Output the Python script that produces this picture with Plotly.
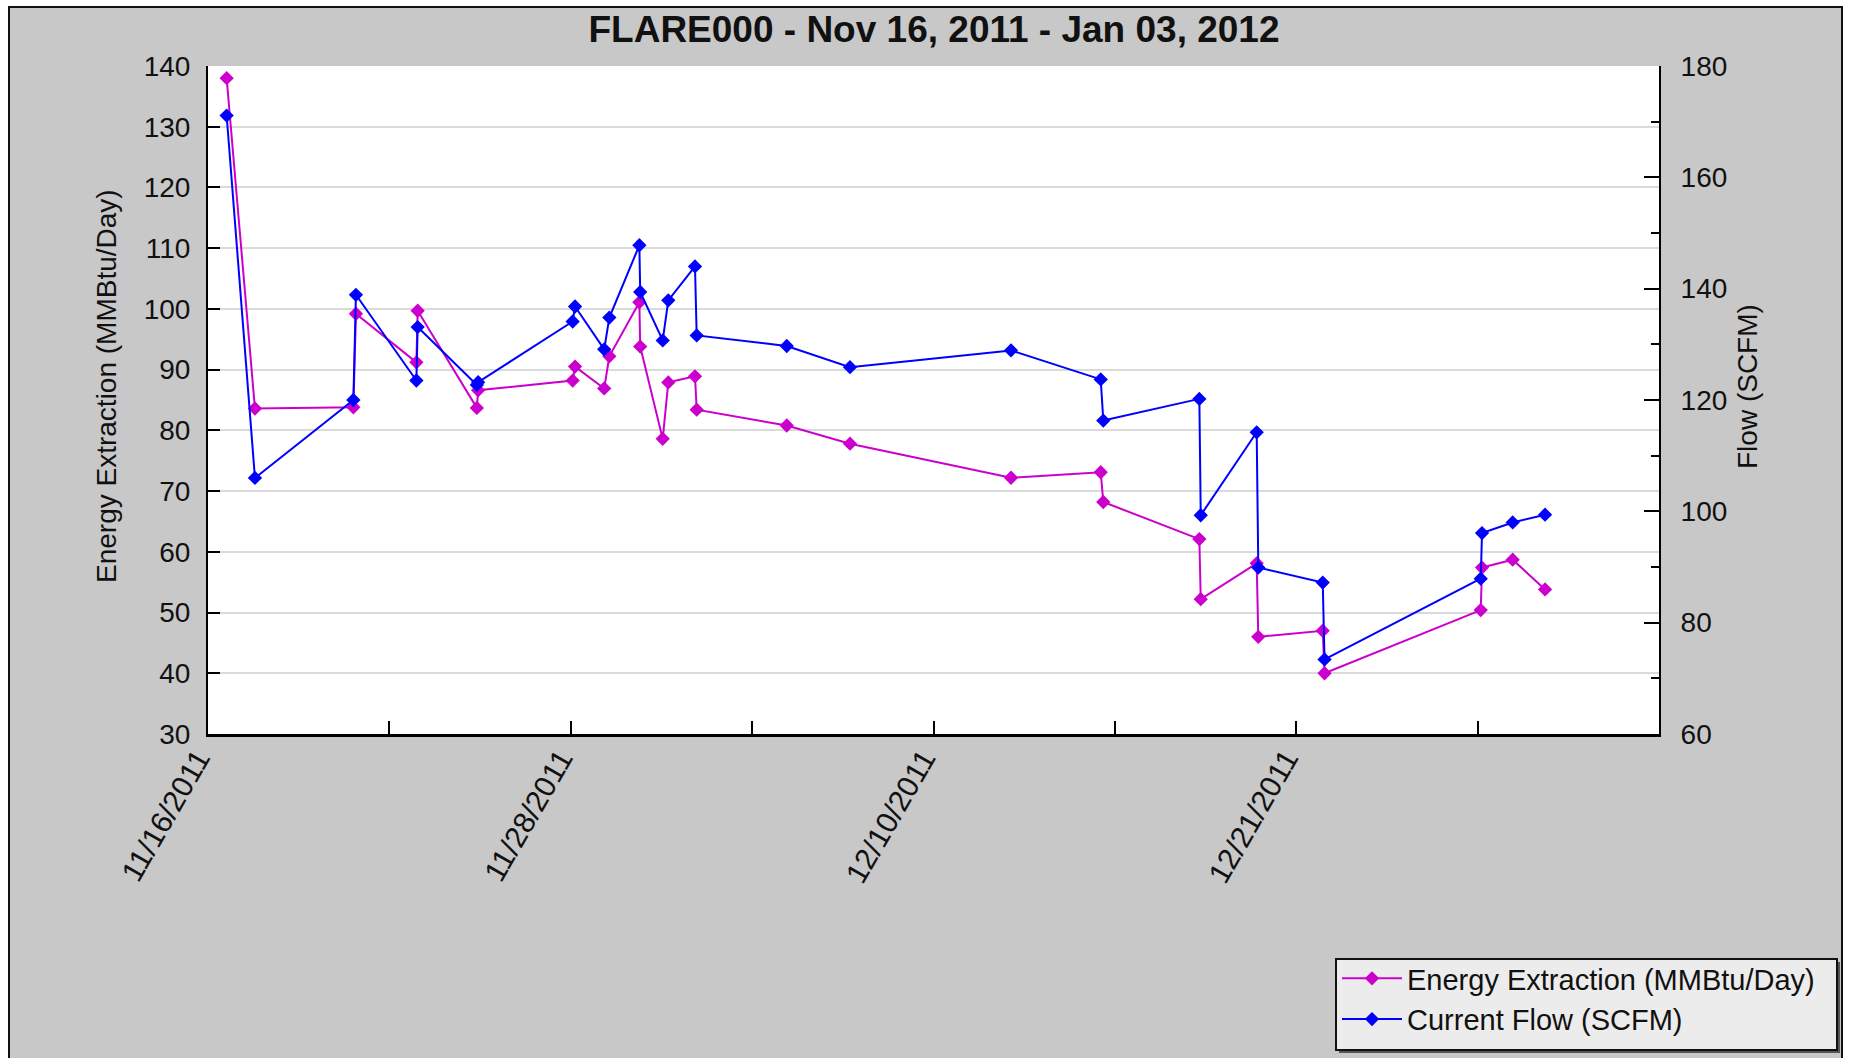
import plotly.graph_objects as go

# ---------------- data ----------------
dates = [
    "2011-11-17 02:30", "2011-11-18 00:30", "2011-11-21 05:00", "2011-11-21 07:00",
    "2011-11-23 06:00", "2011-11-23 07:00", "2011-11-25 05:00", "2011-11-25 06:00",
    "2011-11-28 07:30", "2011-11-28 09:20", "2011-11-29 08:00", "2011-11-29 12:00",
    "2011-11-30 11:20", "2011-11-30 12:00", "2011-12-01 05:30", "2011-12-01 09:50",
    "2011-12-02 06:35", "2011-12-02 07:55", "2011-12-05 05:55", "2011-12-07 07:05",
    "2011-12-12 12:15", "2011-12-15 10:00", "2011-12-15 12:00", "2011-12-18 14:40",
    "2011-12-18 15:45", "2011-12-20 11:15", "2011-12-20 12:30", "2011-12-22 14:35",
    "2011-12-22 16:00", "2011-12-27 17:25", "2011-12-27 18:25", "2011-12-28 18:15",
    "2011-12-29 19:25",
]

energy_mmbtu_day = [
    138.0, 83.6, 83.8, 99.2, 91.2, 99.7, 83.7, 86.6, 88.2, 90.5, 86.9,
    92.2, 101.1, 93.8, 78.6, 87.9, 88.9, 83.4, 80.8, 77.8, 72.2, 73.1,
    68.2, 62.1, 52.2, 58.1, 46.0, 47.0, 40.0, 50.4, 57.4, 58.7, 53.8,
]

flow_scfm = [
    171.1, 106.0, 120.0, 138.9, 123.5, 133.1, 122.7, 123.2, 134.1, 136.8, 129.1,
    134.8, 147.8, 139.4, 130.7, 137.9, 144.0, 131.6, 129.7, 125.9, 128.9, 123.7,
    116.3, 120.2, 99.3, 114.2, 89.9, 87.2, 73.4, 87.9, 96.1, 98.0, 99.4,
]

x_range = ["2011-11-16 12:00", "2012-01-02 12:00"]
tick_dates = ["2011-11-16 12:00", "2011-11-28 06:00", "2011-12-10 00:00", "2011-12-21 18:00"]
tick_labels = ["11/16/2011", "11/28/2011", "12/10/2011", "12/21/2011"]
minor_tick_dates = ["2011-11-22 09:00", "2011-12-04 03:00", "2011-12-15 21:00", "2011-12-27 15:00"]

title_text = "FLARE000 - Nov 16, 2011 - Jan 03, 2012"
left_title = "Energy Extraction (MMBtu/Day)"
right_title = "Flow (SCFM)"
series_names = ["Energy Extraction (MMBtu/Day)", "Current Flow (SCFM)"]

# ---------------- styling / layout ----------------
W, H = 1849, 1058
PL, PR, PT, PB = 208, 1659, 66, 734  # plot area in pixels
FONT = "Liberation Sans, Arial, sans-serif"
MAGENTA = "#cc00cc"
BLUE = "#0000ff"
GREY = "#c8c8c8"
TXT = "#111111"


def px_x(px):
    return (px - PL) / (PR - PL)


def px_y(py):
    return (PB - py) / (PB - PT)


fig = go.Figure()
fig.add_trace(go.Scatter(
    x=dates, y=energy_mmbtu_day, name=series_names[0], mode="lines+markers",
    line=dict(color=MAGENTA, width=2),
    marker=dict(symbol="diamond", size=11, color=MAGENTA),
    yaxis="y",
))
fig.add_trace(go.Scatter(
    x=dates, y=flow_scfm, name=series_names[1], mode="lines+markers",
    line=dict(color=BLUE, width=2),
    marker=dict(symbol="diamond", size=11, color=BLUE),
    yaxis="y2",
))

fig.update_layout(
    width=W, height=H, autosize=False,
    margin=dict(l=PL, r=W - PR, t=PT, b=H - PB, pad=0),
    paper_bgcolor="white", plot_bgcolor="white",
    font=dict(family=FONT, color=TXT),
    title=dict(text=title_text, x=px_x(934), xref="paper", xanchor="center",
               y=1 - 29 / H, yref="container", yanchor="middle",
               font=dict(family=FONT, size=37, weight="bold", color=TXT)),
    showlegend=True,
    legend=dict(
        x=px_x(1337), xanchor="left", y=px_y(953), yanchor="top",
        bgcolor="rgba(0,0,0,0)", borderwidth=0,
        font=dict(family=FONT, size=29, color=TXT),
        itemwidth=60, tracegroupgap=0,
    ),
    xaxis=dict(
        type="date", range=x_range, tickmode="array",
        tickvals=tick_dates, ticktext=tick_labels, tickangle=-60,
        ticks="inside", ticklen=13, tickwidth=2, tickcolor="black",
        showline=True, linecolor="black", linewidth=3,
        showgrid=False, zeroline=False,
        tickfont=dict(family=FONT, size=30, color=TXT),
        ticklabelshift=-10, ticklabelstandoff=-8,
        minor=dict(tickvals=minor_tick_dates, ticks="inside", ticklen=13,
                   tickwidth=2, tickcolor="black", showgrid=False),
    ),
    yaxis=dict(
        range=[30, 140], tick0=30, dtick=10,
        ticks="inside", ticklen=12, tickwidth=2, tickcolor="black",
        showline=True, linecolor="black", linewidth=2,
        showgrid=True, gridcolor="#dadada", gridwidth=2, zeroline=False,
        tickfont=dict(family=FONT, size=28, color=TXT),
        ticklabelstandoff=10,
    ),
    yaxis2=dict(
        range=[60, 180], tick0=60, dtick=20, overlaying="y", side="right",
        ticks="inside", ticklen=15, tickwidth=2, tickcolor="black",
        showline=True, linecolor="black", linewidth=2,
        showgrid=False, zeroline=False,
        tickfont=dict(family=FONT, size=28, color=TXT),
        ticklabelstandoff=14,
        minor=dict(dtick=10, ticks="inside", ticklen=8, tickwidth=2,
                   tickcolor="black", showgrid=False),
    ),
    shapes=[
        # grey panel with black frame
        dict(type="rect", xref="paper", yref="paper", layer="below",
             x0=px_x(9), x1=px_x(1842), y0=px_y(1075), y1=px_y(7),
             fillcolor=GREY, line=dict(color=TXT, width=2)),
        # white plotting area
        dict(type="rect", xref="paper", yref="paper", layer="below",
             x0=0, x1=1, y0=0, y1=1, fillcolor="white", line=dict(width=0)),
        # legend box shadow and box
        dict(type="rect", xref="paper", yref="paper", layer="below",
             x0=px_x(1339), x1=px_x(1840), y0=px_y(1053), y1=px_y(962),
             fillcolor="#555555", line=dict(width=0)),
        dict(type="rect", xref="paper", yref="paper", layer="below",
             x0=px_x(1336), x1=px_x(1837), y0=px_y(1050), y1=px_y(959),
             fillcolor="#ececec", line=dict(color=TXT, width=2)),
    ],
    annotations=[
        dict(text=left_title, textangle=-90, xref="paper", yref="paper",
             x=px_x(106), y=px_y(386), xanchor="center", yanchor="middle",
             showarrow=False, font=dict(family=FONT, size=28, color=TXT)),
        dict(text=right_title, textangle=-90, xref="paper", yref="paper",
             x=px_x(1747), y=px_y(387), xanchor="center", yanchor="middle",
             showarrow=False, font=dict(family=FONT, size=28, color=TXT)),
    ],
)

fig.write_html("out.html", config={"displayModeBar": False},
               post_script="document.body.style.margin='0';")
